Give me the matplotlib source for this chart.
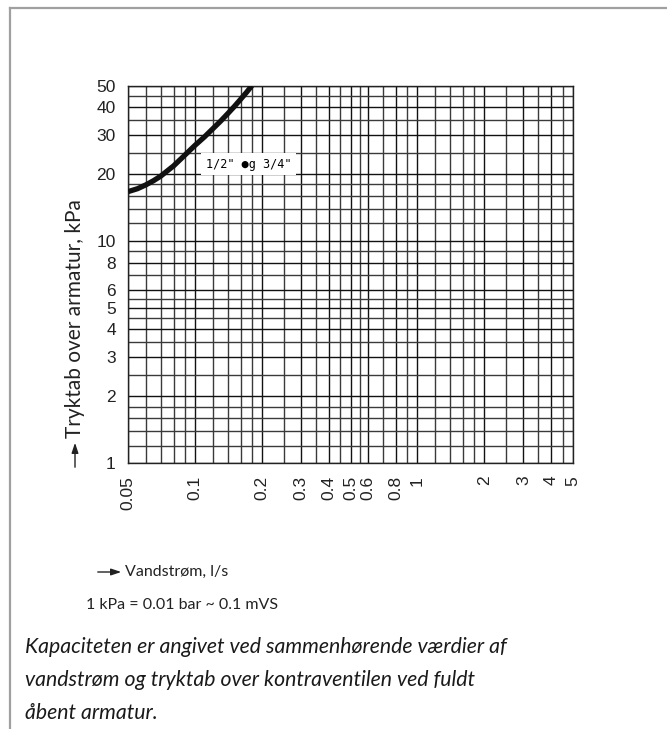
import matplotlib
matplotlib.use("Agg")
import matplotlib.pyplot as plt
from matplotlib.lines import Line2D

# curve: water flow (l/s) vs pressure loss (kPa)
flow = [0.05, 0.055, 0.06, 0.065, 0.07, 0.08, 0.09, 0.10, 0.11, 0.12,
        0.13, 0.14, 0.15, 0.16, 0.17, 0.18]
loss = [16.7, 17.2, 17.9, 18.7, 19.6, 21.8, 24.4, 27.0, 29.4, 32.0,
        34.6, 37.4, 40.3, 43.4, 46.6, 50.0]

x_labels = [0.05, 0.1, 0.2, 0.3, 0.4, 0.5, 0.6, 0.8, 1, 2, 3, 4, 5]
y_labels = [1, 2, 3, 4, 5, 6, 8, 10, 20, 30, 40, 50]
x_grid = [0.05, 0.06, 0.07, 0.08, 0.09, 0.1, 0.12, 0.14, 0.16, 0.18, 0.2,
          0.25, 0.3, 0.35, 0.4, 0.45, 0.5, 0.55, 0.6, 0.7, 0.8, 0.9, 1,
          1.2, 1.4, 1.6, 1.8, 2, 2.5, 3, 3.5, 4, 4.5, 5]
y_grid = [1, 1.2, 1.4, 1.6, 1.8, 2, 2.5, 3, 3.5, 4, 4.5, 5, 5.5, 6, 7, 8, 9,
          10, 12, 14, 16, 18, 20, 25, 30, 35, 40, 45, 50]

curve_label = '1/2" \u25cfg 3/4"'
x_title = "Vandstrøm, l/s"
y_title = "Tryktab over armatur, kPa"
unit_note = "1 kPa = 0.01 bar ~ 0.1 mVS"
caption = ["Kapaciteten er angivet ved sammenhørende værdier af",
           "vandstrøm og tryktab over kontraventilen ved fuldt",
           "åbent armatur."]

W, H = 667, 729
fig = plt.figure(figsize=(W / 100, H / 100), dpi=100)
ax = fig.add_axes([128.3 / W, 1 - 463.3 / H, 444.4 / W, 377.6 / H])
ax.set_xscale("log")
ax.set_yscale("log")
ax.set_xlim(0.05, 5)
ax.set_ylim(1, 50)

minor_x = [v for v in x_grid if v not in x_labels]
minor_y = [v for v in y_grid if v not in y_labels]
ax.set_xticks(x_labels)
ax.set_xticklabels([f"{v:g}" for v in x_labels])
ax.set_xticks(minor_x, minor=True)
ax.set_xticklabels([], minor=True)
ax.set_yticks(y_labels)
ax.set_yticklabels([f"{v:g}" for v in y_labels])
ax.set_yticks(minor_y, minor=True)
ax.set_yticklabels([], minor=True)

ax.grid(True, which="major", color="#111111", lw=1.0)
ax.grid(True, which="minor", color="#3a3a3a", lw=1.0)
ax.tick_params(which="both", length=0, labelsize=12.5, labelcolor="#222222")
ax.tick_params(axis="x", which="major", pad=9, labelrotation=90)
ax.tick_params(axis="y", which="major", pad=9)
for lab in ax.get_xticklabels() + ax.get_yticklabels():
    lab.set_family("Liberation Sans")
for sp in ax.spines.values():
    sp.set_color("#222222")
    sp.set_linewidth(1.0)

ax.plot(flow, loss, color="#111111", lw=3.8, solid_capstyle="butt",
        solid_joinstyle="round", zorder=5)
ax.text(0.1115, 22.2, curve_label, fontsize=8.5, family="DejaVu Sans Mono",
        va="center", ha="left", zorder=6,
        bbox=dict(boxstyle="square,pad=0.4", fc="white", ec="none"))

# y axis title with arrow
fig.text(75 / W, 1 - 319 / H, y_title, rotation=90, ha="center", va="center",
         fontsize=15, family="Lato", color="#222222")
ax.annotate("", xy=(75 / W, 1 - 440 / H), xytext=(75 / W, 1 - 470 / H),
            xycoords="figure fraction", textcoords="figure fraction",
            arrowprops=dict(arrowstyle="-|>,head_length=0.6,head_width=0.2",
                            color="#222222", lw=1.0))

# x axis title with arrow
ax.annotate("", xy=(124 / W, 1 - 572 / H), xytext=(95 / W, 1 - 572 / H),
            xycoords="figure fraction", textcoords="figure fraction",
            arrowprops=dict(arrowstyle="-|>,head_length=0.6,head_width=0.2",
                            color="#222222", lw=1.0))
fig.text(125 / W, 1 - 572 / H, x_title, ha="left", va="center",
         fontsize=11.5, family="Lato", color="#222222")
fig.text(86 / W, 1 - 605 / H, unit_note, ha="left", va="center",
         fontsize=11.5, family="Lato", color="#222222")

for i, line in enumerate(caption):
    fig.text(25 / W, 1 - (647 + 33 * i) / H, line, ha="left", va="center",
             fontsize=15.3, family="Lato", style="italic", color="#1a1a1a")

# grey frame at top and left
fig.add_artist(Line2D([10 / W, 1], [1 - 8 / H, 1 - 8 / H], color="#a0a0a0", lw=1.6))
fig.add_artist(Line2D([10 / W, 10 / W], [0, 1 - 8 / H], color="#a0a0a0", lw=1.6))

fig.savefig("out.png", dpi=100, facecolor="white")
